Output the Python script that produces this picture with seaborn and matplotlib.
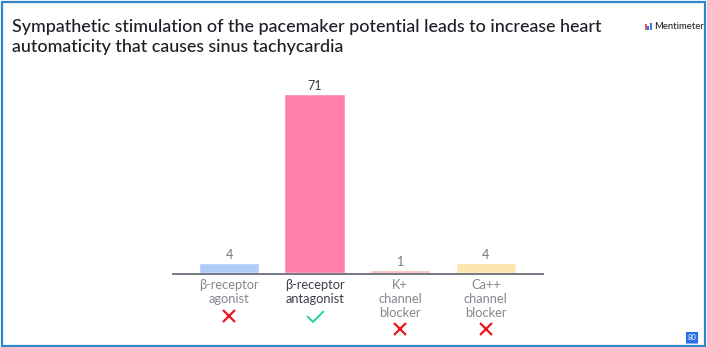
import matplotlib
matplotlib.use("Agg")
import matplotlib.pyplot as plt
from matplotlib.patches import Rectangle, FancyBboxPatch
from matplotlib.path import Path
import seaborn as sns
import pandas as pd

categories = ["β-receptor\nagonist", "β-receptor\nantagonist", "K+\nchannel\nblocker", "Ca++\nchannel\nblocker"]
votes = [4, 71, 1, 4]
bar_colors = ["#AECBFA", "#FF7FA8", "#FBB8B4", "#FDE6AE"]
is_correct = [False, True, False, False]
title_lines = "Sympathetic stimulation of the pacemaker potential leads to increase heart\nautomaticity that causes sinus tachycardia"
brand = "Mentimeter"
badge = "80"

W, H = 707, 347
FONT = "Lato"
sns.set_theme(style="white")
plt.rcParams["font.family"] = [FONT, "DejaVu Sans"]

fig = plt.figure(figsize=(W / 100, H / 100), dpi=100, facecolor="white")

def px_rect(x0, y0, x1, y1):
    return [x0 / W, 1 - y1 / H, (x1 - x0) / W, (y1 - y0) / H]

ax = fig.add_axes(px_rect(173, 60, 543, 273))
df = pd.DataFrame({"cat": categories, "votes": votes})
sns.barplot(data=df, x="cat", y="votes", hue="cat", palette=bar_colors, legend=False,
            width=0.705, saturation=1, ax=ax)
ax.set_xlim(-0.654, 3.668)
ax.set_ylim(0, 213 / 2.515)
ax.set_xlabel("")
ax.set_ylabel("")
ax.set_yticks([])
ax.set_xticks(range(len(categories)))
ax.set_xticklabels([])
ax.tick_params(axis="x", length=0)
ax.patch.set_alpha(0)
for s in ["top", "left", "right"]:
    ax.spines[s].set_visible(False)
ax.spines["bottom"].set_color("#6A6D78")
ax.spines["bottom"].set_linewidth(1.3)
ax.spines["bottom"].set_position(("outward", 0.7))

trans = ax.get_xaxis_transform()
for i, (cat, v, ok) in enumerate(zip(categories, votes, is_correct)):
    ax.annotate(str(v), (i, v), xytext=(0, 1.6), textcoords="offset points", ha="center", va="bottom",
                fontsize=9, color="#3A3A3A" if ok else "#777777")
    ax.annotate(cat, (i, 0), xycoords=trans, xytext=(0, -4), textcoords="offset points",
                ha="center", va="top", fontsize=9.3, linespacing=1.2,
                color="#3C3F4A" if ok else "#85878F", annotation_clip=False)
    n_lines = cat.count("\n") + 1
    my = (316 if n_lines == 2 else 329)
    y_axes = (273 - my) / 213
    if ok:
        check = Path([(-1, 0.05), (-0.3, -0.65), (1, 0.65)], [Path.MOVETO, Path.LINETO, Path.LINETO])
        ax.plot([i], [y_axes], transform=trans, marker=check, markersize=12, fillstyle="none",
                markeredgecolor="#1FD39A", markeredgewidth=1.4, clip_on=False, linestyle="none")
    else:
        ax.plot([i], [y_axes], transform=trans, marker="x", markersize=8.2,
                markeredgecolor="#F0141E", markeredgewidth=1.6, clip_on=False, linestyle="none")

fig.text(12 / W, 1 - 19 / H, title_lines, ha="left", va="top", fontsize=12.92, color="#1E1F26",
         linespacing=1.3, fontweight="medium")

# logo
for x0, x1, y0, col in [(644.5, 646.5, 24, "#F0545F"), (647, 649, 26, "#2F6FE8"), (649.5, 651.5, 23, "#3E7BF0")]:
    fig.add_artist(Rectangle((x0 / W, 1 - 30 / H), (x1 - x0) / W, (30 - y0) / H,
                             transform=fig.transFigure, color=col, lw=0))
fig.text(654 / W, 1 - 26.5 / H, brand, ha="left", va="center", fontsize=6.8, color="#222222", fontweight="medium")

# badge
fig.add_artist(FancyBboxPatch((687 / W, 1 - 342.5 / H), 10 / W, 9.5 / H,
                              boxstyle="round,pad=0", transform=fig.transFigure,
                              facecolor="#2B6FE8", edgecolor="#2B6FE8", lw=1.5))
fig.text(692 / W, 1 - 337.5 / H, badge, ha="center", va="center", fontsize=5.5, color="white")

# frame
fig.add_artist(Rectangle((1.5 / W, 1.5 / H), (W - 4) / W, (H - 3) / H, transform=fig.transFigure,
                         fill=False, edgecolor="#2E86C8", lw=1.6))

fig.savefig("out.png", dpi=100)
